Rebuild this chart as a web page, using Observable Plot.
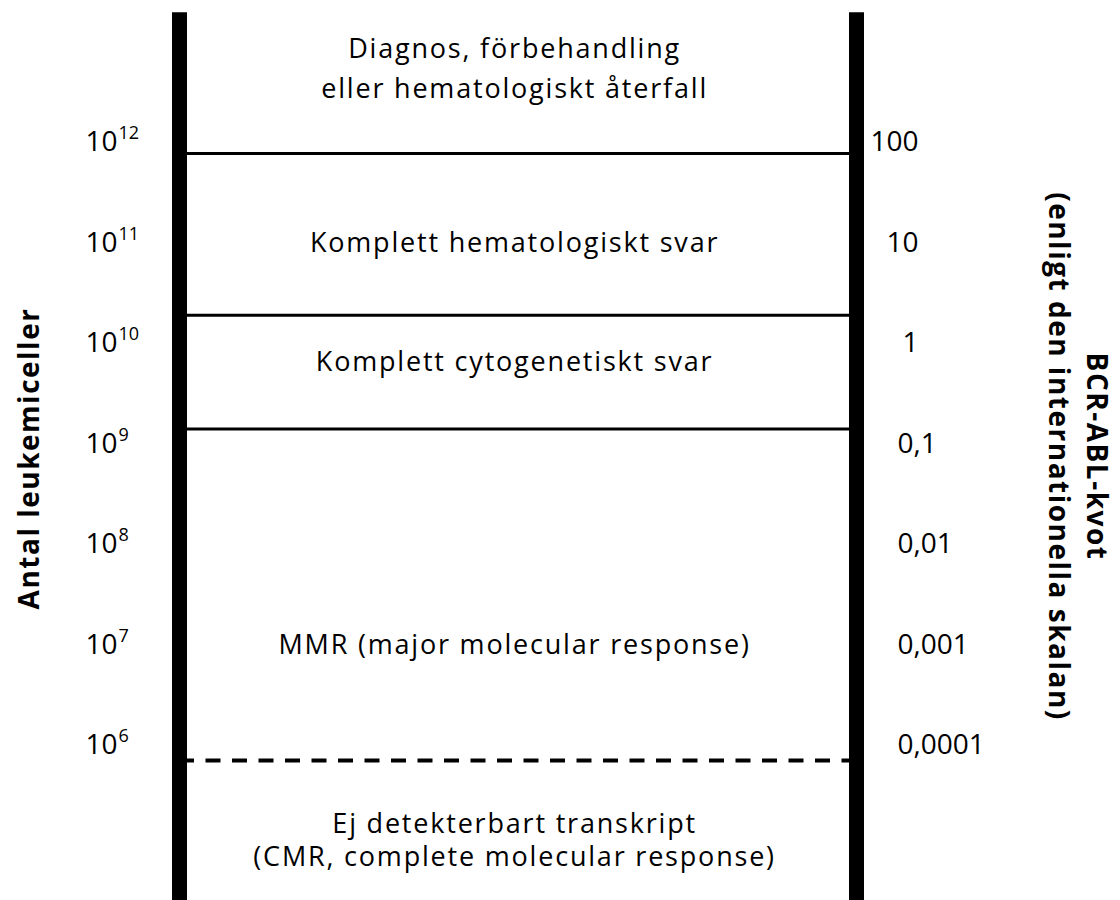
<!DOCTYPE html>
<html>
<head>
<meta charset="utf-8">
<script src="https://cdn.jsdelivr.net/npm/d3@7"></script>
<script src="https://cdn.jsdelivr.net/npm/@observablehq/plot@0.6"></script>
<style>
  html, body { margin: 0; padding: 0; background: #fff; }
  #chart svg { display: block; }
  #chart g[font-weight="normal"] text { letter-spacing: 1.8px; }
  #chart g[font-weight="bold"] text { letter-spacing: 1.5px; }
</style>
</head>
<body>
<div id="chart"></div>
<script>
// --- data ---
const exponents = [12, 11, 10, 9, 8, 7, 6];                       // left scale: 10^n leukemia cells
const ratioLabels = ["100", "10", "1", "0,1", "0,01", "0,001", "0,0001"]; // right scale: BCR-ABL ratio (IS)
const solidBoundaries = [11.89, 10.28, 9.15];                     // response thresholds (log10 cells)
const dashedBoundaries = [5.85];                                   // detection limit
const bandLabels = [
  {text: "Diagnos, förbehandling\neller hematologiskt återfall", y: 12.77, lh: 1.5},
  {text: "Komplett hematologiskt svar", y: 11.0, lh: 1},
  {text: "Komplett cytogenetiskt svar", y: 9.81, lh: 1},
  {text: "MMR (major molecular response)", y: 7.0, lh: 1},
  {text: "Ej detekterbart transkript\n(CMR, complete molecular response)", y: 5.07, lh: 1.22}
];
const axisSides = [0, 1];        // left and right scale bars
const axisExtent = [13.29, 4.4]; // vertical extent of the scale bars
const leftTitle = "Antal leukemiceller";
const rightTitles = ["BCR-ABL-kvot", "(enligt den internationella skalan)"];

const ticks = exponents.map((e, i) => ({e, ratio: ratioLabels[i], big: i < 3}));
const font = "'Open Sans', sans-serif";

const bandMarks = [1.5, 1.22, 1].map(lh =>
  Plot.text(bandLabels.filter(d => d.lh === lh), {
    x: 0.495, y: "y", text: "text", fontSize: 27, fill: "#000", fontWeight: "normal",
    textAnchor: "middle", lineHeight: lh
  })
);

const chart = Plot.plot({
  width: 1120,
  height: 900,
  margin: 0,
  style: {fontFamily: font, background: "#fff", color: "#000"},
  x: {domain: [0, 1], range: [179, 856], axis: null},
  y: {domain: [12, 6], range: [142, 745], axis: null},
  marks: [
    // threshold lines
    Plot.ruleY(solidBoundaries, {y: d => d, x1: 0, x2: 1, stroke: "#000", strokeWidth: 3}),
    Plot.ruleY(dashedBoundaries, {y: d => d, x1: 0, x2: 1, stroke: "#000", strokeWidth: 4, strokeDasharray: "15,11.5"}),
    // scale bars
    Plot.ruleX(axisSides, {x: d => d, y1: axisExtent[0], y2: axisExtent[1], stroke: "#000", strokeWidth: 15}),
    // band labels
    ...bandMarks,
    // left tick labels 10^n
    Plot.text(ticks, {x: 0, y: "e", text: () => "10", dx: -62, textAnchor: "end", fontSize: 28, fill: "#000", fontWeight: 400}),
    Plot.text(ticks, {x: 0, y: "e", text: d => String(d.e), dx: -61, dy: -9, textAnchor: "start", fontSize: 18, fill: "#000", fontWeight: 400}),
    // right tick labels
    Plot.text(ticks.filter(d => d.big), {x: 1, y: "e", text: "ratio", dx: 62, textAnchor: "end", fontSize: 28, fill: "#000", fontWeight: 400}),
    Plot.text(ticks.filter(d => !d.big), {x: 1, y: "e", text: "ratio", dx: 41, textAnchor: "start", fontSize: 28, fill: "#000", fontWeight: 400}),
    // axis titles
    Plot.text([leftTitle], {frameAnchor: "left", dx: 30, dy: 8, rotate: -90, textAnchor: "middle", fontSize: 28, fontWeight: "bold", fill: "#000"}),
    Plot.text([rightTitles[0]], {frameAnchor: "right", dx: -25, dy: 6, rotate: 90, textAnchor: "middle", fontSize: 28, fontWeight: "bold", fill: "#000"}),
    Plot.text([rightTitles[1]], {frameAnchor: "right", dx: -63, dy: 6, rotate: 90, textAnchor: "middle", fontSize: 28, fontWeight: "bold", fill: "#000"})
  ]
});
document.getElementById("chart").appendChild(chart);
</script>
</body>
</html>
